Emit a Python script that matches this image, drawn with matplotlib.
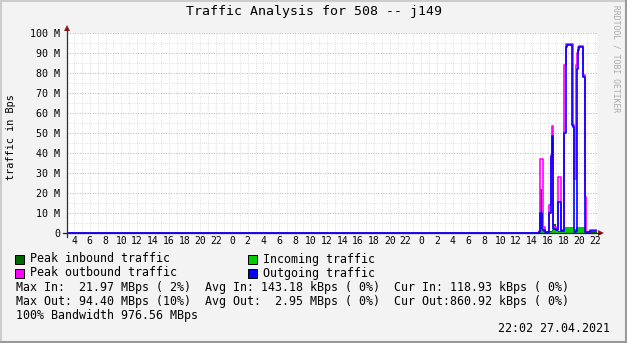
import numpy as np
import matplotlib
matplotlib.use("Agg")
import matplotlib.pyplot as plt
from matplotlib.lines import Line2D
from matplotlib.patches import Rectangle, Polygon

W, H = 627, 343
MONO = "DejaVu Sans Mono"

# -------------------- DATA --------------------
# breakpoints in hours since day-1 00:00; each value holds until the next breakpoint
hours = [3.10, 62.85, 63.03, 63.29, 63.37, 63.66, 64.17, 64.39, 64.55, 64.72,
         65.06, 65.35, 65.69, 66.11, 66.20, 66.32, 66.45, 67.13, 67.25, 67.34,
         67.59, 67.72, 67.80, 67.93, 68.52, 68.73, 68.90, 69.37, 70.25]
# MBps
peak_in  = [0, 0.3, 22, 2, 1, 0.5, 1, 1, 1.5, 4.5,
            1.5, 1, 1.5, 1.5, 3, 3, 3, 3, 3, 2.2,
            3, 3, 3, 3, 3, 0.5, 0.3, 0.3, 0.3]
incoming = [0, 0.1, 2, 1, 0.5, 0.2, 0.5, 0.5, 0.8, 3,
            1, 0.5, 1, 1, 2.8, 2.8, 2.8, 2.8, 2.8, 2,
            2.8, 2.8, 2.8, 2.8, 2.8, 0.3, 0.15, 0.12, 0.12]
peak_out = [0, 0.8, 37, 37, 3, 0.6, 14, 39, 53.5, 3,
            2, 28, 1.5, 84, 84, 94.4, 94.4, 94.4, 54, 27,
            84, 90, 93, 93.5, 79, 18, 0.5, 1.5, 1.5]
outgoing = [0, 0.4, 10, 2, 1.5, 0.3, 10, 38, 48.5, 2,
            1.5, 15.7, 1, 50, 50, 93, 94, 54, 53, 0.3,
            1, 82, 91.5, 93, 78, 0.5, 0.3, 0.86, 0.86]

xtick_hours = list(range(4, 71, 2))
ytick_vals = list(range(0, 101, 10))

title = "Traffic Analysis for 508 -- j149"
legend_rows = [
    ("Peak inbound traffic", "#006600", "Incoming traffic", "#00CC00"),
    ("Peak outbound traffic", "#FF00FF", "Outgoing traffic", "#0000FF"),
]
stat_lines = [
    "Max In:  21.97 MBps ( 2%)  Avg In: 143.18 kBps ( 0%)  Cur In: 118.93 kBps ( 0%)",
    "Max Out: 94.40 MBps (10%)  Avg Out:  2.95 MBps ( 0%)  Cur Out:860.92 kBps ( 0%)",
    "100% Bandwidth 976.56 MBps",
]
stamp = "22:02 27.04.2021"


def fx(x):
    return x / W


def fy(y):
    return 1 - y / H


fig = plt.figure(figsize=(W / 100, H / 100), dpi=100, facecolor="#F3F3F3")

ax = fig.add_axes([fx(67), fy(233), 530 / W, 200 / H])
ax.set_facecolor("white")
ax.set_xlim(3.113, 70.25)
ax.set_ylim(0, 100)
for s in ax.spines.values():
    s.set_visible(False)

# grid (fine dotted, like rrdtool)
dots = (0, (1, 1.6))
for h in range(4, 71):
    ax.axvline(h, color="#D6D6D6", lw=0.6, ls=dots, zorder=0)
for v in range(5, 100, 10):
    ax.axhline(v, color="#D6D6D6", lw=0.6, ls=dots, zorder=0)
for v in range(10, 101, 10):
    ax.axhline(v, color="#E4A0A0", lw=0.7, ls=dots, zorder=0.5)

t = np.array(hours)
ax.fill_between(t, peak_in, step="post", color="#006600", lw=0, zorder=2)
ax.fill_between(t, incoming, step="post", color="#00CC00", lw=0, zorder=3)
ax.step(t, peak_out, where="post", color="#FF00FF", lw=1.2, zorder=4)
ax.step(t, outgoing, where="post", color="#0000FF", lw=1.2, zorder=5)

ax.set_xticks(xtick_hours)
ax.set_xticklabels([str(h % 24) for h in xtick_hours], fontfamily=MONO, fontsize=7)
ax.set_yticks(ytick_vals)
ax.set_yticklabels(["0" if v == 0 else f"{v} M" for v in ytick_vals],
                   fontfamily=MONO, fontsize=7.2)
ax.tick_params(axis="x", length=0, pad=2.5)
ax.tick_params(axis="y", length=0, pad=5)

# axes lines + arrows
fig.add_artist(Line2D([fx(63), fx(600)], [fy(233), fy(233)], color="#1A1A60", lw=0.9))
fig.add_artist(Line2D([fx(67), fx(67)], [fy(237), fy(29)], color="#303030", lw=0.9))
fig.add_artist(Polygon([(fx(64), fy(31)), (fx(70), fy(31)), (fx(67), fy(25))],
                       closed=True, transform=fig.transFigure, fc="#8B1A1A", ec="none"))
fig.add_artist(Polygon([(fx(598), fy(230)), (fx(598), fy(236)), (fx(604), fy(233))],
                       closed=True, transform=fig.transFigure, fc="#8B1A1A", ec="none"))

# texts
fig.text(fx(313.5), fy(12), title, ha="center", va="center", fontfamily=MONO, fontsize=9.5)
fig.text(fx(11), fy(137), "traffic in Bps", ha="center", va="center", rotation=90,
         fontfamily=MONO, fontsize=7.4)
fig.text(fx(616), fy(5), "RRDTOOL / TOBI OETIKER", ha="center", va="top", rotation=270,
         fontfamily=MONO, fontsize=5.8, color="#AAAAAA")

row_y = [259, 273]
for (l1, c1, l2, c2), y in zip(legend_rows, row_y):
    for bx, tx, lab, col in [(15, 30.5, l1, c1), (248, 263, l2, c2)]:
        fig.add_artist(Rectangle((fx(bx), fy(y + 4.5)), 9 / W, 9 / H, transform=fig.transFigure,
                                 fc=col, ec="black", lw=0.7))
        fig.text(fx(tx), fy(y), lab, ha="left", va="center", fontfamily=MONO, fontsize=8.35)

for line, y in zip(stat_lines, [287, 301, 315]):
    fig.text(fx(16), fy(y), line, ha="left", va="center", fontfamily=MONO, fontsize=8.35)

fig.text(fx(610), fy(329), stamp, ha="right", va="center", fontfamily=MONO, fontsize=8.35)

# outer frame
fig.add_artist(Line2D([0, 1], [fy(1), fy(1)], color="#CCCCCC", lw=1.5))
fig.add_artist(Line2D([fx(1), fx(1)], [0, 1], color="#CCCCCC", lw=1.5))
fig.add_artist(Line2D([0, 1], [fy(342), fy(342)], color="#9A9A9A", lw=1.5))
fig.add_artist(Line2D([fx(626), fx(626)], [0, 1], color="#9A9A9A", lw=1.5))

fig.savefig("out.png", dpi=100, facecolor=fig.get_facecolor())
